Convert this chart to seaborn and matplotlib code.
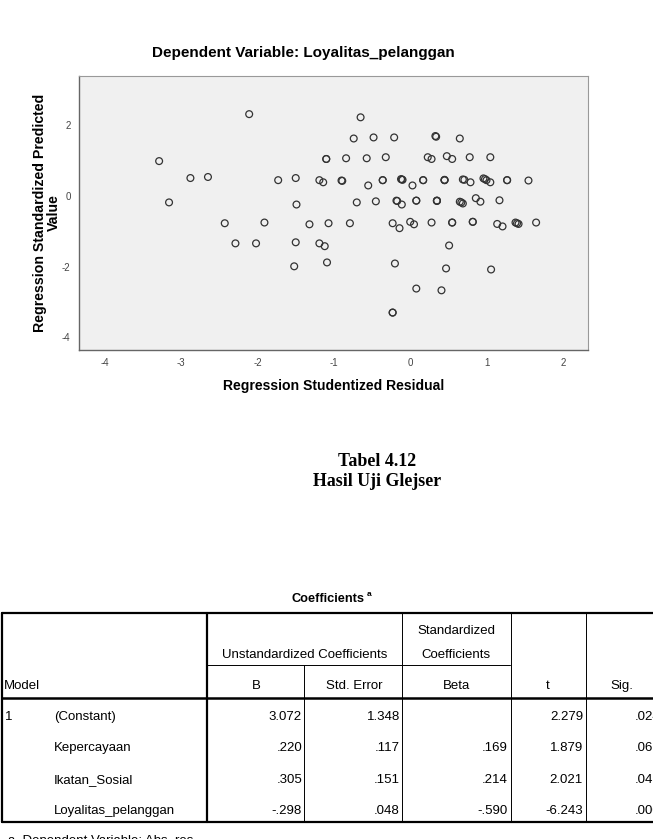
import matplotlib
matplotlib.use("Agg")
import matplotlib.pyplot as plt
import seaborn as sns
from matplotlib.lines import Line2D

# Residual plot data
studentized_residual = [
    -3.29, -3.16, -2.88, -2.65, -2.43, -2.29, -2.11, -2.02, -1.91, -1.73,
    -1.50, -1.49, -1.50, -1.52, -1.32, -1.19, -1.14, -1.19, -1.12, -1.10,
    -1.10, -1.07, -1.09, -0.90, -0.89, -0.84, -0.79, -0.74, -0.70, -0.65,
    -0.57, -0.55, -0.48, -0.45, -0.36, -0.36, -0.32, -0.23, -0.21, -0.20,
    -0.23, -0.23, -0.18, -0.17, -0.11, -0.14, -0.11, -0.10, -0.12, 0.00,
    0.03, 0.05, 0.08, 0.08, 0.08, 0.17, 0.17, 0.23, 0.28, 0.28,
    0.33, 0.34, 0.35, 0.35, 0.35, 0.41, 0.45, 0.45, 0.45, 0.47,
    0.48, 0.51, 0.55, 0.55, 0.55, 0.65, 0.65, 0.69, 0.67, 0.69,
    0.71, 0.79, 0.78, 0.82, 0.82, 0.86, 0.92, 0.96, 0.98, 1.00,
    1.05, 1.05, 1.06, 1.14, 1.21, 1.17, 1.27, 1.27, 1.38, 1.40,
    1.42, 1.55, 1.65,
]
standardized_predicted = [
    0.99, -0.18, 0.51, 0.54, -0.77, -1.34, 2.32, -1.34, -0.75, 0.45,
    0.51, -0.24, -1.31, -1.99, -0.80, 0.45, 0.39, -1.34, -1.42, 1.05,
    1.05, -0.77, -1.88, 0.44, 0.43, 1.07, -0.77, 1.63, -0.18, 2.23,
    1.07, 0.30, 1.66, -0.15, 0.45, 0.45, 1.10, -0.77, 1.66, -1.91,
    -3.30, -3.30, -0.13, -0.14, -0.24, -0.91, 0.47, 0.46, 0.48, -0.73,
    0.30, -0.80, -0.13, -0.13, -2.62, 0.45, 0.45, 1.10, 1.05, -0.75,
    1.70, 1.68, -0.13, -0.13, -0.14, -2.67, 0.45, 0.45, 0.46, -2.05,
    1.13, -1.40, 1.05, -0.75, -0.75, 1.63, -0.16, -0.21, -0.18, 0.47,
    0.46, 0.39, 1.10, -0.73, -0.73, -0.06, -0.16, 0.50, 0.48, 0.45,
    0.39, 1.10, -2.08, -0.79, -0.86, -0.12, 0.45, 0.45, -0.75, -0.77,
    -0.79, 0.44, -0.75,
]
x_ticks = [-4, -3, -2, -1, 0, 1, 2]
y_ticks = [-4, -2, 0, 2]

# Coefficients table data
row_models = ["1", "", "", ""]
row_names = ["(Constant)", "Kepercayaan", "Ikatan_Sosial", "Loyalitas_pelanggan"]
coef_b = ["3.072", ".220", ".305", "-.298"]
coef_se = ["1.348", ".117", ".151", ".048"]
coef_beta = ["", ".169", ".214", "-.590"]
coef_t = ["2.279", "1.879", "2.021", "-6.243"]
coef_sig = [".024", ".062", ".045", ".000"]

W, H = 653, 839
sns.set_style("white")
plt.rcParams["font.family"] = ["Liberation Sans", "DejaVu Sans"]
plt.rcParams["axes.unicode_minus"] = False
plt.rcParams["text.color"] = "black"
plt.rcParams["axes.labelcolor"] = "black"

fig = plt.figure(figsize=(W / 100, H / 100), dpi=100)


def fx(x):
    return x / W


def fy(y):
    return 1 - y / H


# scatter plot
ax = fig.add_axes([fx(79), fy(350), fx(588) - fx(79), fy(76) - fy(350)])
sns.scatterplot(x=studentized_residual, y=standardized_predicted, ax=ax,
                marker="o", s=24, edgecolor="#333333", linewidth=0.9)
ax.collections[0].set_facecolor("none")
ax.set_facecolor("#f0f0f0")
ax.set_xlim(-4.34, 2.33)
ax.set_ylim(-4.36, 3.40)
ax.set_xticks(x_ticks)
ax.set_yticks(y_ticks)
ax.tick_params(axis="both", direction="out", length=4, width=0.8,
               color="#555555", labelsize=7, labelcolor="#444444", pad=2)
for side in ["top", "right"]:
    ax.spines[side].set_color("#999999")
    ax.spines[side].set_linewidth(0.8)
for side in ["left", "bottom"]:
    ax.spines[side].set_color("#666666")
    ax.spines[side].set_linewidth(1.0)
ax.set_xlabel("Regression Studentized Residual", fontsize=10.1,
              fontweight="bold", labelpad=8)
ax.set_ylabel("Regression Standardized Predicted\nValue", fontsize=10.2,
              fontweight="bold", labelpad=1, linespacing=0.95)
fig.text(fx(303), fy(53), "Dependent Variable: Loyalitas_pelanggan",
         fontsize=11, fontweight="bold", ha="center", va="center")

# caption
serif = ["Liberation Serif", "DejaVu Serif"]
fig.text(fx(377), fy(462), "Tabel 4.12", fontsize=12.9, fontweight="bold",
         family=serif, ha="center", va="center")
fig.text(fx(377), fy(481), "Hasil Uji Glejser", fontsize=12.9,
         fontweight="bold", family=serif, ha="center", va="center")

# coefficients table
fig.text(fx(328), fy(599), "Coefficients", fontsize=9.2, fontweight="bold",
         ha="center", va="center")
fig.text(fx(366.5), fy(594), "a", fontsize=6, fontweight="bold",
         ha="left", va="center")


def hline(y, x0, x1, lw):
    fig.add_artist(Line2D([fx(x0), fx(x1)], [fy(y), fy(y)], color="black",
                          linewidth=lw, transform=fig.transFigure))


def vline(x, y0, y1, lw):
    fig.add_artist(Line2D([fx(x), fx(x)], [fy(y0), fy(y1)], color="black",
                          linewidth=lw, transform=fig.transFigure))


top, sub, head, bottom = 613, 665, 698, 822
hline(top, 2, 660, 1.6)
hline(sub, 207, 510, 0.7)
hline(head, 2, 660, 1.8)
hline(bottom, 2, 660, 1.6)
vline(2, top, bottom, 1.6)
vline(207, top, bottom, 1.6)
vline(304, sub, bottom, 0.7)
vline(402, top, bottom, 0.7)
vline(510.5, top, bottom, 0.7)
vline(586, top, bottom, 0.7)

tfs = 9.5
fig.text(fx(456), fy(630.5), "Standardized", fontsize=tfs, ha="center", va="center")
fig.text(fx(456), fy(655), "Coefficients", fontsize=tfs, ha="center", va="center")
fig.text(fx(304.5), fy(655), "Unstandardized Coefficients", fontsize=tfs,
         ha="center", va="center")
fig.text(fx(4), fy(686), "Model", fontsize=tfs, ha="left", va="center")
fig.text(fx(256), fy(686), "B", fontsize=tfs, ha="center", va="center")
fig.text(fx(354), fy(686), "Std. Error", fontsize=tfs, ha="center", va="center")
fig.text(fx(456), fy(686), "Beta", fontsize=tfs, ha="center", va="center")
fig.text(fx(548), fy(686), "t", fontsize=tfs, ha="center", va="center")
fig.text(fx(622), fy(686), "Sig.", fontsize=tfs, ha="center", va="center")

row_y = [717, 748, 780, 811]
for i, yy in enumerate(row_y):
    fig.text(fx(5), fy(yy), row_models[i], fontsize=tfs, ha="left", va="center")
    fig.text(fx(54), fy(yy), row_names[i], fontsize=tfs, ha="left", va="center")
    fig.text(fx(302), fy(yy), coef_b[i], fontsize=tfs, ha="right", va="center")
    fig.text(fx(400), fy(yy), coef_se[i], fontsize=tfs, ha="right", va="center")
    fig.text(fx(508), fy(yy), coef_beta[i], fontsize=tfs, ha="right", va="center")
    fig.text(fx(583), fy(yy), coef_t[i], fontsize=tfs, ha="right", va="center")
    fig.text(fx(661), fy(yy), coef_sig[i], fontsize=tfs, ha="right", va="center")

fig.text(fx(8), fy(841), "a. Dependent Variable: Abs_res", fontsize=tfs,
         ha="left", va="center")

fig.savefig("out.png", dpi=100)
